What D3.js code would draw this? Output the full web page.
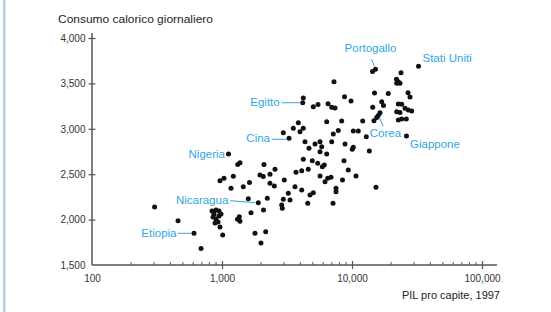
<!DOCTYPE html>
<html>
<head>
<meta charset="utf-8">
<script src="https://cdn.jsdelivr.net/npm/d3@7"></script>
<style>
  body { margin: 0; background: #fff; }
  svg { display: block; font-family: "Liberation Sans", Arial, sans-serif; }
</style>
</head>
<body>
<div id="chart"></div>
<script>
// PIL pro capite (scala log) vs consumo calorico giornaliero, 1997

var gdp = [
  303, 459, 609, 690, 1122, 1321, 1375, 965, 1036, 1222,
  1173, 1458, 1627, 1593, 1902, 1671, 2086, 2231, 2104, 2078,
  1960, 2340, 2340, 2526, 2557, 838, 868, 899, 948, 853,
  899, 948, 982, 932, 884, 965, 1012, 1316, 1375, 1359,
  1794, 2169, 1995, 3015, 3709, 4103, 4610, 4221, 4350, 5193,
  5847, 4669, 5674, 6389, 4950, 5448, 5910, 6123, 5674, 6199,
  6503, 3644, 4103, 3236, 4753, 5039, 2962, 3336, 2879, 2910,
  4563, 6980, 8835, 10230, 10050, 13590, 8679, 9365, 10730, 8450,
  6894, 7533, 7533, 15290, 7143, 7270, 4221, 4177, 5039, 5477,
  6538, 6980, 6389, 3864, 3536, 4221, 3981, 3277, 2962, 5674,
  8757, 9824, 14380, 15160, 32480, 23820, 21990, 22710, 23390, 22070,
  14900, 19020, 26970, 27940, 16920, 17470, 14430, 22710, 24120, 25570,
  27110, 28790, 22070, 23390, 16420, 15930, 15490, 12090, 14760, 8330,
  22710, 24120, 26160, 7400, 7847, 7181, 10230, 11180, 12880, 26250
];

var kcal = [
  2139, 1988, 1849, 1682, 2722, 2607, 2627, 2428, 2455, 2477,
  2345, 2362, 2409, 2230, 2186, 2076, 2106, 2235, 2607, 2475,
  2491, 2499, 2400, 2370, 2554, 2095, 2062, 2106, 2095, 2029,
  2007, 2040, 2062, 1974, 1963, 1918, 1830, 2003, 1981, 2032,
  1849, 1867, 1742, 2436, 2521, 2539, 2554, 2664, 2858, 2833,
  2803, 2785, 2748, 2722, 2649, 2620, 2583, 2601, 2480, 2417,
  2455, 2362, 2326, 2290, 2271, 2296, 2224, 2216, 2161, 2124,
  2180, 2858, 2833, 2796, 2774, 2755, 2649, 2546, 2480, 2436,
  2466, 2345, 2307, 2356, 2180, 3519, 3339, 3287, 3243, 3268,
  3276, 3237, 3078, 3067, 3005, 3005, 2968, 2895, 2957, 2858,
  3353, 3306, 3631, 3655, 3688, 3618, 3545, 3519, 3501, 3501,
  3394, 3389, 3398, 3350, 3298, 3257, 3237, 3273, 3271, 3226,
  3207, 3196, 3188, 3179, 3176, 3146, 3124, 3086, 3089, 3086,
  3097, 3108, 3108, 3229, 2981, 2943, 2976, 2976, 2913, 2921
];

// paesi con etichetta (valori del punto indicato)
var labelNames = ['Portogallo', 'Stati Uniti', 'Egitto', 'Cina', 'Nigeria', 'Nicaragua', 'Etiopia', 'Corea', 'Giappone'];
var labelGdp   = [15160, 32480, 4177, 3277, 1122, 1902, 609, 15490, 26250];
var labelKcal  = [3655, 3688, 3287, 2895, 2722, 2186, 1849, 3124, 2921];

var yTicks = [1500, 2000, 2500, 3000, 3500, 4000];
var xTicks = [100, 1000, 10000, 100000];

// posizione del testo e del trattino rispetto al punto
var labelLayout = [
  {dx: -5,  dy: -17,  anchor: 'middle', line: [-4, -10, -1, -3]},
  {dx: 4,   dy: -4,   anchor: 'start',  line: null},
  {dx: -23, dy: 3.5,  anchor: 'end',    line: [-21, 0, -3, 0]},
  {dx: -19, dy: 3.5,  anchor: 'end',    line: [-17, 1, -3, 1]},
  {dx: -3.5,dy: 4,    anchor: 'end',    line: null},
  {dx: -30, dy: 1.5,  anchor: 'end',    line: [-28, -2, -3, 0]},
  {dx: -17.5,dy: 3.5, anchor: 'end',    line: [-16, 0, -3, 0]},
  {dx: -7,  dy: 19.5, anchor: 'start',  line: [2.5, 0, 6.5, 8.5]},
  {dx: 3.5, dy: 12,   anchor: 'start',  line: null}
];

var W = 551, H = 312;
var blue = '#2fa7de';
var axisCol = '#555';

var svg = d3.select('#chart')
  .append('svg')
  .attr('width', W)
  .attr('height', H);

svg.append('rect').attr('width', W).attr('height', H).attr('fill', '#fff');

// bordo azzurro a sinistra
svg.append('rect')
  .attr('x', 3).attr('y', 0)
  .attr('width', 2.5).attr('height', H)
  .attr('fill', '#a9d4ea');

var x = d3.scaleLog().domain([100, 100000]).range([92, 482]);
var y = d3.scaleLinear().domain([1500, 4000]).range([265, 38]);

// asse y
var gy = svg.append('g')
  .attr('transform', 'translate(' + x(100) + ',0)')
  .call(d3.axisLeft(y).tickValues(yTicks).tickSize(3).tickFormat(d3.format(',')));
gy.select('.domain').remove();
gy.selectAll('.tick line')
  .attr('x2', 3.5).attr('x1', -3.5)
  .attr('stroke', axisCol).attr('stroke-width', 1.2);
gy.selectAll('.tick').filter(function(d) { return d === 1500; }).select('line').remove();
gy.selectAll('.tick text')
  .attr('x', -6.5)
  .attr('fill', '#333')
  .style('font-size', '10px')
  .style('font-family', '"Liberation Sans", Arial, sans-serif');

svg.append('line')
  .attr('x1', x(100)).attr('x2', x(100))
  .attr('y1', 33).attr('y2', y(1500))
  .attr('stroke', axisCol).attr('stroke-width', 1.5);

// asse x (logaritmico)
var minor = [];
[100, 1000, 10000].forEach(function(b) {
  for (var k = 2; k <= 9; k++) minor.push(b * k);
});

var gx = svg.append('g')
  .attr('transform', 'translate(0,' + y(1500) + ')');

gx.selectAll('line.minor')
  .data(minor)
  .enter()
  .append('line')
  .attr('class', 'minor')
  .attr('x1', function(d) { return x(d); })
  .attr('x2', function(d) { return x(d); })
  .attr('y1', -3).attr('y2', 0)
  .attr('stroke', axisCol).attr('stroke-width', 1);

gx.call(d3.axisBottom(x).tickValues(xTicks).tickSize(4).tickFormat(d3.format(',')));
gx.select('.domain').remove();
gx.selectAll('.tick line')
  .attr('y1', -4).attr('y2', 4)
  .attr('stroke', axisCol).attr('stroke-width', 1.2);
gx.selectAll('.tick').filter(function(d) { return d === 100; }).select('line').remove();
gx.selectAll('.tick text')
  .attr('y', 10)
  .attr('fill', '#333')
  .style('font-size', '10px')
  .style('font-family', '"Liberation Sans", Arial, sans-serif');

svg.append('line')
  .attr('x1', x(100)).attr('x2', x(100000) + 15)
  .attr('y1', y(1500)).attr('y2', y(1500))
  .attr('stroke', axisCol).attr('stroke-width', 1.5);

// titoli
svg.append('text')
  .attr('x', 58).attr('y', 23)
  .attr('fill', '#222')
  .attr('textLength', 155)
  .attr('lengthAdjust', 'spacingAndGlyphs')
  .style('font-size', '11px')
  .text('Consumo calorico giornaliero');

svg.append('text')
  .attr('x', 500).attr('y', 299)
  .attr('text-anchor', 'end')
  .attr('fill', '#222')
  .style('font-size', '11px')
  .text('PIL pro capite, 1997');

// punti
var pts = gdp.map(function(g, i) { return {g: g, k: kcal[i]}; });

svg.append('g')
  .selectAll('circle')
  .data(pts)
  .enter()
  .append('circle')
  .attr('cx', function(d) { return x(d.g); })
  .attr('cy', function(d) { return y(d.k); })
  .attr('r', 2.5)
  .attr('fill', '#111');

// etichette
var lab = svg.append('g');
labelNames.forEach(function(name, i) {
  var px = x(labelGdp[i]), py = y(labelKcal[i]);
  var L = labelLayout[i];
  if (L.line) {
    lab.append('line')
      .attr('x1', px + L.line[0]).attr('y1', py + L.line[1])
      .attr('x2', px + L.line[2]).attr('y2', py + L.line[3])
      .attr('stroke', blue).attr('stroke-width', 1);
  }
  lab.append('text')
    .attr('x', px + L.dx).attr('y', py + L.dy)
    .attr('text-anchor', L.anchor)
    .attr('fill', blue)
    .style('font-size', '11.5px')
    .text(name);
});
</script>
</body>
</html>
